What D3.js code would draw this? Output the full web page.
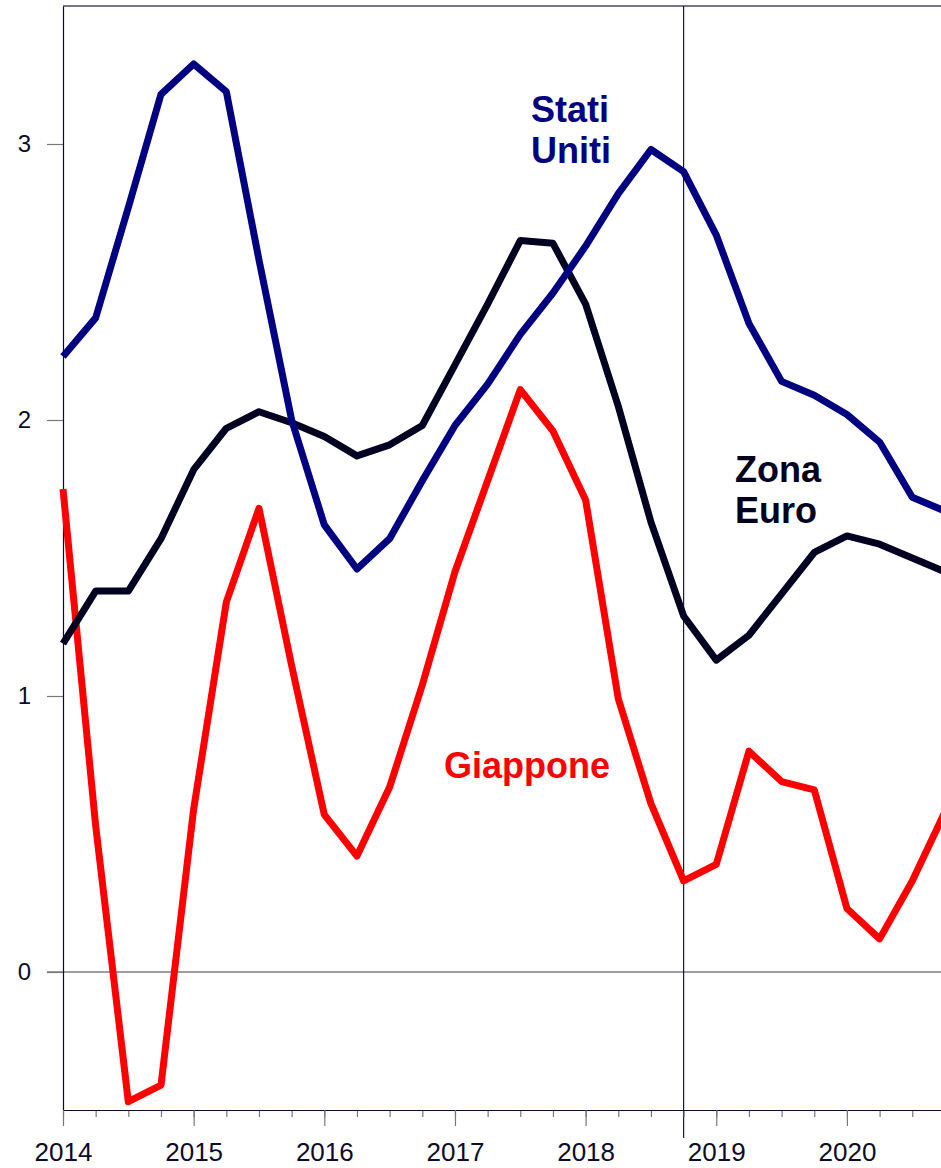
<!DOCTYPE html>
<html>
<head>
<meta charset="utf-8">
<script src="https://cdn.jsdelivr.net/npm/d3@7"></script>
<style>
  body { margin: 0; background: #fff; }
  svg { display: block; font-family: "Liberation Sans", Arial, sans-serif; }
</style>
</head>
<body>
<div id="container"></div>
<script>
const WIDTH = 941;
const HEIGHT = 1168;

// quarterly periods, 2014 Q1 .. 2020 Q4
const quarters = [
    "2014Q1","2014Q2","2014Q3","2014Q4",
    "2015Q1","2015Q2","2015Q3","2015Q4",
    "2016Q1","2016Q2","2016Q3","2016Q4",
    "2017Q1","2017Q2","2017Q3","2017Q4",
    "2018Q1","2018Q2","2018Q3","2018Q4",
    "2019Q1","2019Q2","2019Q3","2019Q4",
    "2020Q1","2020Q2","2020Q3","2020Q4"
];

const statiUniti = [2.23, 2.37, 2.77, 3.18, 3.29, 3.19, 2.58, 2.00,
                    1.62, 1.46, 1.57, 1.78, 1.98, 2.13, 2.31, 2.46,
                    2.63, 2.82, 2.98, 2.90, 2.67, 2.35, 2.14, 2.09,
                    2.02, 1.92, 1.72, 1.67];

const zonaEuro = [1.19, 1.38, 1.38, 1.57, 1.82, 1.97, 2.03, 1.99,
                  1.94, 1.87, 1.91, 1.98, 2.20, 2.42, 2.65, 2.64,
                  2.42, 2.05, 1.63, 1.29, 1.13, 1.22, 1.37, 1.52,
                  1.58, 1.55, 1.50, 1.45];

const giappone = [1.75, 0.53, -0.47, -0.41, 0.59, 1.34, 1.68, 1.11,
                  0.57, 0.42, 0.67, 1.04, 1.45, 1.78, 2.11, 1.96,
                  1.71, 0.99, 0.61, 0.33, 0.39, 0.80, 0.69, 0.66,
                  0.23, 0.12, 0.33, 0.58];

const yearTicks = [2014, 2015, 2016, 2017, 2018, 2019, 2020];
const valueTicks = [0, 1, 2, 3];
const markerDate = 2018.75;

var toYear = function (q) {
    return +q.slice(0, 4) + (+q.slice(5) - 1) / 4;
};

var translate = function (x, y) {
    return "translate(" + x + "," + y + ")";
};

var createChart = function () {
    var svg = d3.select("#container").append("svg")
        .attr("width", WIDTH)
        .attr("height", HEIGHT);

    // plot runs off the right edge of the picture
    var xScale = d3.scaleLinear().domain([2014, 2020.72]).range([63, WIDTH]);
    var yScale = d3.scaleLinear().domain([-0.5, 3.5]).range([1110, 6]);

    var axisColor = "#0b0b2b";
    var tickColor = "#777";

    // top frame line
    svg.append("line")
        .attr("x1", 63).attr("x2", WIDTH)
        .attr("y1", yScale(3.5)).attr("y2", yScale(3.5))
        .attr("stroke", "#4a4a5a").attr("stroke-width", 1.5);

    // zero line
    svg.append("line")
        .attr("x1", 47).attr("x2", WIDTH)
        .attr("y1", yScale(0)).attr("y2", yScale(0))
        .attr("stroke", "#3a3a4a").attr("stroke-width", 1.2);

    // vertical marker
    svg.append("line")
        .attr("x1", xScale(markerDate)).attr("x2", xScale(markerDate))
        .attr("y1", yScale(3.5)).attr("y2", 1138)
        .attr("stroke", "#1a1a33").attr("stroke-width", 1.2);

    // y axis
    var yAxis = d3.axisLeft(yScale).tickValues(valueTicks).tickSize(16).tickSizeOuter(0)
        .tickPadding(16).tickFormat(d3.format("d"));
    var gy = svg.append("g").attr("transform", translate(63, 0)).call(yAxis);
    gy.select(".domain").attr("stroke", axisColor).attr("stroke-width", 1.2);
    gy.selectAll(".tick line").attr("stroke", tickColor).attr("stroke-width", 1.2);
    gy.selectAll(".tick text").attr("fill", axisColor).attr("font-size", 24)
        .attr("font-family", "Liberation Sans, Arial, sans-serif");

    // x axis: quarterly minor ticks
    var xMinor = d3.axisBottom(xScale).tickValues(quarters.map(toYear))
        .tickSize(7).tickSizeOuter(0).tickFormat("");
    var gxm = svg.append("g").attr("transform", translate(0, 1110)).call(xMinor);
    gxm.select(".domain").remove();
    gxm.selectAll(".tick line").attr("stroke", tickColor).attr("stroke-width", 1.2);

    // x axis: years
    var xAxis = d3.axisBottom(xScale).tickValues(yearTicks).tickSize(16).tickSizeOuter(0)
        .tickPadding(17).tickFormat(d3.format("d"));
    var gx = svg.append("g").attr("transform", translate(0, 1110)).call(xAxis);
    gx.select(".domain").attr("stroke", axisColor).attr("stroke-width", 1.2);
    gx.selectAll(".tick line").attr("stroke", tickColor).attr("stroke-width", 1.2);
    gx.selectAll(".tick text").attr("fill", axisColor).attr("font-size", 26)
        .attr("font-family", "Liberation Sans, Arial, sans-serif");

    var line = d3.line()
        .x(function (d, i) { return xScale(toYear(quarters[i])); })
        .y(function (d) { return yScale(d); });

    var series = [
        {values: giappone, color: "#ff0000"},
        {values: zonaEuro, color: "#000020"},
        {values: statiUniti, color: "#000080"}
    ];

    series.forEach(function (s) {
        svg.append("path")
            .attr("d", line(s.values))
            .attr("fill", "none")
            .attr("stroke", s.color)
            .attr("stroke-width", 7)
            .attr("stroke-linejoin", "round");
    });

    // labels
    var labels = [
        {lines: ["Stati", "Uniti"], x: 531, y: 122, color: "#000080"},
        {lines: ["Zona", "Euro"], x: 735, y: 482, color: "#00001e"},
        {lines: ["Giappone"], x: 444, y: 778, color: "#ff0000"}
    ];

    labels.forEach(function (l) {
        var t = svg.append("text")
            .attr("x", l.x).attr("y", l.y)
            .attr("fill", l.color)
            .attr("font-size", 36)
            .attr("font-weight", "bold");
        l.lines.forEach(function (s, i) {
            t.append("tspan").attr("x", l.x).attr("dy", i === 0 ? 0 : 41).text(s);
        });
    });
};

window.onload = createChart;
</script>
</body>
</html>
